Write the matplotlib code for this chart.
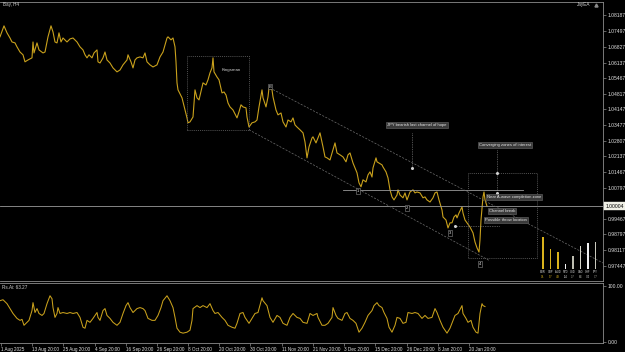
import numpy as np
import matplotlib
matplotlib.use("Agg")
import matplotlib.pyplot as plt

plt.rcParams['font.family'] = ['Liberation Sans', 'DejaVu Sans']

# H4 line chart, x = bar number on chart
price_bar = [0, 4, 7, 10, 12, 15, 17, 20, 23, 25, 28, 32, 33, 34, 37, 39, 43, 45, 48, 51,
             53, 55, 57, 59, 61, 63, 67, 70, 73, 77, 80, 83, 85, 87, 89, 92, 94, 97, 98, 100,
             103, 105, 107, 110, 113, 117, 120, 123, 127, 128, 131, 133, 135, 137, 140, 143, 145, 147, 150, 153,
             157, 160, 163, 167, 168, 171, 173, 175, 176, 177, 178, 182, 185, 187, 188, 190, 193, 195, 197, 199,
             202, 203, 206, 208, 210, 212, 213, 214, 217, 219, 222, 224, 226, 228, 230, 233, 237, 239, 241, 243,
             246, 247, 249, 252, 255, 257, 259, 262, 263, 266, 268, 269, 272, 273, 276, 278, 281, 283, 286, 288,
             291, 293, 295, 297, 300, 303, 305, 307, 309, 312, 313, 316, 318, 320, 323, 325, 327, 330, 333, 335,
             337, 340, 343, 346, 348, 350, 353, 357, 359, 361, 363, 366, 368, 370, 372, 373, 376, 377, 379, 382,
             383, 386, 388, 390, 392, 394, 397, 398, 400, 403, 405, 407, 410, 413, 415, 417, 420, 423, 425, 427,
             430, 433, 435, 437, 439, 442, 443, 446, 448, 450, 452, 454, 456, 457, 459, 462, 463, 465, 467, 470,
             473, 475, 477, 479, 480, 481, 482, 483, 484, 485, 487]
price = [1.0725, 1.0772, 1.0742, 1.0720, 1.0703, 1.0699, 1.0682, 1.0660, 1.0648, 1.0618, 1.0626, 1.0635, 1.0703, 1.0656, 1.0699, 1.0669, 1.0656, 1.0660, 1.0725, 1.0772,
         1.0746, 1.0703, 1.0699, 1.0742, 1.0703, 1.0720, 1.0703, 1.0716, 1.0720, 1.0703, 1.0682, 1.0669, 1.0648, 1.0635, 1.0648, 1.0635, 1.0656, 1.0669, 1.0618, 1.0613,
         1.0635, 1.0660, 1.0626, 1.0613, 1.0592, 1.0575, 1.0583, 1.0605, 1.0626, 1.0648, 1.0618, 1.0592, 1.0626, 1.0635, 1.0639, 1.0635, 1.0656, 1.0618, 1.0605, 1.0596,
         1.0605, 1.0639, 1.0660, 1.0720, 1.0725, 1.0712, 1.0720, 1.0682, 1.0618, 1.0528, 1.0498, 1.0464, 1.0412, 1.0378, 1.0357, 1.0361, 1.0382, 1.0498, 1.0464, 1.0455,
         1.0511, 1.0528, 1.0519, 1.0541, 1.0571, 1.0592, 1.0635, 1.0575, 1.0553, 1.0541, 1.0485, 1.0489, 1.0476, 1.0442, 1.0425, 1.0412, 1.0378, 1.0404, 1.0434, 1.0425,
         1.0421, 1.0382, 1.0339, 1.0357, 1.0361, 1.0369, 1.0425, 1.0498, 1.0464, 1.0425, 1.0468, 1.0506, 1.0498, 1.0468, 1.0412, 1.0391, 1.0399, 1.0361, 1.0339, 1.0369,
         1.0361, 1.0378, 1.0348, 1.0339, 1.0327, 1.0314, 1.0275, 1.0207, 1.0254, 1.0292, 1.0297, 1.0271, 1.0292, 1.0314, 1.0254, 1.0211, 1.0207, 1.0198, 1.0241, 1.0271,
         1.0228, 1.0220, 1.0211, 1.0190, 1.0220, 1.0228, 1.0185, 1.0143, 1.0100, 1.0083, 1.0113, 1.0104, 1.0134, 1.0147, 1.0125, 1.0164, 1.0207, 1.0190, 1.0185, 1.0177,
         1.0168, 1.0147, 1.0121, 1.0070, 1.0040, 1.0027, 1.0048, 1.0070, 1.0048, 1.0036, 1.0057, 1.0027, 1.0061, 1.0070, 1.0057, 1.0061, 1.0057, 1.0036, 1.0040, 1.0027,
         1.0018, 1.0036, 1.0057, 1.0061, 1.0027, 0.9984, 0.9954, 0.9941, 0.9907, 0.9929, 0.9929, 0.9954, 0.9963, 0.9950, 0.9971, 0.9997, 0.9971, 0.9941, 0.9929, 0.9911,
         0.9886, 0.9847, 0.9822, 0.9804, 0.9856, 0.9941, 0.9993, 1.0040, 1.0061, 1.0027, 1.00004]

rsi_bar = [0, 3, 7, 10, 13, 17, 20, 22, 24, 27, 29, 32, 33, 35, 37, 39, 42, 44, 47, 50,
           52, 53, 55, 57, 58, 60, 63, 67, 70, 73, 77, 80, 83, 85, 87, 90, 93, 97, 98, 100,
           103, 105, 107, 110, 113, 117, 120, 123, 126, 128, 130, 133, 137, 140, 143, 145, 148, 152, 155, 158,
           161, 163, 167, 170, 173, 175, 177, 180, 183, 187, 190, 192, 193, 197, 200, 203, 207, 210, 213, 215,
           218, 222, 225, 228, 232, 235, 237, 240, 243, 245, 247, 249, 252, 255, 258, 262, 263, 267, 270, 273,
           277, 280, 283, 287, 290, 293, 297, 300, 303, 307, 310, 313, 317, 318, 322, 325, 328, 332, 333, 336,
           338, 342, 345, 347, 350, 353, 356, 359, 362, 365, 368, 372, 374, 377, 379, 382, 384, 387, 389, 392,
           395, 397, 400, 403, 406, 408, 412, 415, 418, 422, 425, 428, 432, 435, 437, 440, 443, 447, 450, 453,
           455, 458, 462, 463, 466, 468, 471, 473, 476, 478, 480, 482, 483, 485]
rsi = [73.7, 75.4, 68.4, 59.6, 50.9, 42.1, 38.6, 40.4, 29.8, 35.1, 38.6, 56.1, 70.2, 52.6, 59.6, 50.9, 47.4, 50.9, 68.4, 82.5,
       77.2, 61.4, 43.9, 50.9, 61.4, 50.9, 52.6, 50.9, 52.6, 50.9, 52.6, 43.9, 26.3, 24.6, 38.6, 35.1, 42.1, 52.6, 43.9, 38.6,
       56.1, 59.6, 47.4, 42.1, 35.1, 29.8, 35.1, 50.9, 64.9, 70.2, 61.4, 52.6, 59.6, 61.4, 59.6, 56.1, 42.1, 38.6, 38.6, 47.4,
       61.4, 73.7, 82.5, 73.7, 61.4, 43.9, 24.6, 17.5, 15.8, 17.5, 21.1, 38.6, 59.6, 64.9, 61.4, 64.9, 61.4, 68.4, 56.1, 50.9,
       52.6, 43.9, 38.6, 29.8, 26.3, 24.6, 33.3, 50.9, 52.6, 43.9, 38.6, 33.3, 42.1, 50.9, 52.6, 78.9, 73.7, 64.9, 43.9, 35.1,
       47.4, 43.9, 33.3, 29.8, 43.9, 50.9, 43.9, 42.1, 35.1, 33.3, 50.9, 47.4, 50.9, 43.9, 29.8, 29.8, 33.3, 43.9, 61.4, 47.4,
       42.1, 38.6, 50.9, 52.6, 42.1, 38.6, 33.3, 17.5, 24.6, 35.1, 47.4, 56.1, 64.9, 70.2, 64.9, 61.4, 52.6, 42.1, 26.3, 17.5,
       29.8, 43.9, 42.1, 33.3, 35.1, 52.6, 50.9, 52.6, 50.9, 42.1, 47.4, 42.1, 43.9, 59.6, 52.6, 38.6, 26.3, 15.8, 24.6, 38.6,
       47.4, 50.9, 64.9, 50.9, 42.1, 35.1, 38.6, 26.3, 17.5, 15.8, 50.9, 68.4, 64.9, 63.27]

date_bars = [1, 32, 63, 95, 126, 157, 188, 219, 250, 282, 313, 344, 375, 407, 438, 469]
date_labels = ['1 Aug 2025', '13 Aug 20:00', '25 Aug 20:00', '4 Sep 20:00', '16 Sep 20:00',
               '26 Sep 20:00', '8 Oct 20:00', '20 Oct 20:00', '30 Oct 20:00', '11 Nov 20:00',
               '21 Nov 20:00', '3 Dec 20:00', '15 Dec 20:00', '26 Dec 20:00', '8 Jan 20:00', '20 Jan 20:00']
price_ticks = [1.08187, 1.07497, 1.06827, 1.06137, 1.05467, 1.04817, 1.04147, 1.03477,
               1.02807, 1.02137, 1.01467, 1.00797, 0.99467, 0.98797, 0.98117, 0.97447]
last_price = 1.00004

# currency strength bars (bottom right)
strength_names = ['EUR', 'GBP', 'AUD', 'NZD', 'USD', 'CAD', 'CHF', 'JPY']
strength = [91, 57, 49, 14, 37, 66, 74, 77]
strength_colors = ['#d9b21c', '#d9b21c', '#d9b21c', '#f2f2f2', '#bdbdb0', '#d8d8cc', '#f2f2f2', '#c8c8bc']

# drawing objects
kingsman_box = (187, 249, 1.0327, 1.0643)
zone_box = (468, 537, 0.9779, 1.0142)
upper_chan = ([270, 603], [1.0506, 0.9757])
lower_chan = ([249, 490], [1.0327, 0.9766])
level_line = ([343, 523], [1.0070, 1.0070])
notes = [('JPY bearish last channel of hope', 417, 1.0348),
         ('Converging zones of interest', 505, 1.0262),
         ('Near A-wave completion zone', 514, 1.0040),
         ('Channel break', 502, 0.9980),
         ('Possible throw location', 506, 0.9941)]
wave_marks = [('1', 358, 1.0064), ('2', 407, 0.9993), ('3', 450, 0.9886), ('4', 480, 0.9752), ('B', 270, 1.0512)]

gold = '#c9a11c'
grey = '#8c8c8c'
txt = '#d0d0d0'

fig = plt.figure(figsize=(6.25, 3.52), dpi=100, facecolor='black')
ax = fig.add_axes([0.0, 0.2017, 0.9648, 0.7926], facecolor='black')
ax2 = fig.add_axes([0.0, 0.0256, 0.9648, 0.1705], facecolor='black', sharex=ax)

ax.plot(price_bar, price, color=gold, lw=0.8)
ax.set_xlim(0, 603)
ax.set_ylim(0.9680, 1.0874)

ax.axhline(last_price, color='#9a9a9a', lw=0.6)
ax.plot(*level_line, color='#9a9a9a', lw=0.6)
ax.plot(*upper_chan, color='#6e6e6e', lw=0.5, ls=(0, (3, 2)))
ax.plot(*lower_chan, color='#6e6e6e', lw=0.5, ls=(0, (3, 2)))

for x0, x1, y0, y1 in [kingsman_box, zone_box]:
    ax.plot([x0, x1, x1, x0, x0], [y0, y0, y1, y1, y0], color='#6e6e6e', lw=0.5, ls=(0, (1.5, 1.5)))
ax.text(231, 1.0583, 'Kingsman', color=txt, fontsize=3.2, ha='center', va='center')

ax.plot([412, 412], [1.0314, 1.0164], color='#9a9a9a', lw=0.5, ls=(0, (1, 1.5)))
ax.plot([412], [1.0164], marker='o', ms=1.2, color='#d0d0d0')
ax.plot([497, 497], [1.0241, 1.0057], color='#9a9a9a', lw=0.5, ls=(0, (1, 1.5)))
ax.plot([497, 497], [1.0142, 1.0057], ls='none', marker='o', ms=1.2, color='#d0d0d0')
ax.plot([455, 500], [0.9916, 0.9916], color='#9a9a9a', lw=0.5, ls=(0, (1, 1.5)))
ax.plot([455], [0.9916], marker='o', ms=1.2, color='#d0d0d0')

for s, x, y in notes:
    ax.text(x, y, s, color='#e6e6e6', fontsize=3.0, ha='center', va='center',
            bbox=dict(boxstyle='square,pad=0.25', fc='#3a3a3a', ec='#6a6a6a', lw=0.4))
for s, x, y in wave_marks:
    ax.text(x, y, s, color='#e6e6e6', fontsize=3.0, ha='center', va='center',
            bbox=dict(boxstyle='square,pad=0.2', fc='black', ec='#8a8a8a', lw=0.4))

ax.text(3, 1.0862, 'Bay, H4', color=txt, fontsize=3.3, ha='left', va='center')
ax.text(590, 1.0862, 'JayEA', color=txt, fontsize=3.3, ha='right', va='center')
ax.plot([596], [1.0862], marker='^', ms=2.2, color='#8a8a8a')

ax.yaxis.tick_right()
ax.set_yticks(price_ticks)
ax.set_yticklabels([f'{v:.5f}' for v in price_ticks])
ax.tick_params(axis='y', colors=grey, labelcolor='#e0e0e0', labelsize=3.6, length=2, width=0.5, pad=1.5)
ax.tick_params(axis='x', bottom=False, labelbottom=False)
ax.text(1.004, last_price, f'{last_price:.5f}', transform=ax.get_yaxis_transform(), color='black',
        fontsize=3.6, ha='left', va='center',
        bbox=dict(boxstyle='square,pad=0.25', fc='#f0f0e6', ec='#f0f0e6', lw=0.3))

for a in (ax, ax2):
    for side in a.spines:
        a.spines[side].set_color(grey)
        a.spines[side].set_linewidth(0.6)
    a.spines['left'].set_visible(False)

# strength histogram
sx = ax.inset_axes([0.894, 0.043, 0.0995, 0.125])
sx.set_facecolor('none')
sx.bar(range(len(strength)), strength, width=0.22, color=strength_colors)
sx.set_xlim(-0.5, len(strength) - 0.5)
sx.set_ylim(0, 100)
sx.axis('off')
for i, (n, c) in enumerate(zip(strength_names, strength_colors)):
    sx.text(i, -4, n, color='#d8d8d8', fontsize=1.9, ha='center', va='top')
    sx.text(i, -18, f'{strength[i]/10:.1f}', color=c, fontsize=1.9, ha='center', va='top')

# lower indicator panel
ax2.plot(rsi_bar, rsi, color=gold, lw=0.75)
ax2.set_ylim(-1.75, 105.3)
ax2.yaxis.tick_right()
ax2.set_yticks([0, 100])
ax2.set_yticklabels(['0.00', '100.00'])
ax2.tick_params(axis='y', colors=grey, labelcolor='#e0e0e0', labelsize=3.6, length=2, width=0.5, pad=1.5)
ax2.set_xticks(date_bars)
ax2.set_xticklabels(date_labels, ha='left')
ax2.tick_params(axis='x', colors=grey, labelcolor='#e0e0e0', labelsize=3.3, length=2, width=0.5, pad=0.8)
ax2.text(2, 97, 'Rs.Ai: 63.27', color=txt, fontsize=3.3, ha='left', va='center')

fig.savefig('out.png', dpi=100, facecolor='black')
